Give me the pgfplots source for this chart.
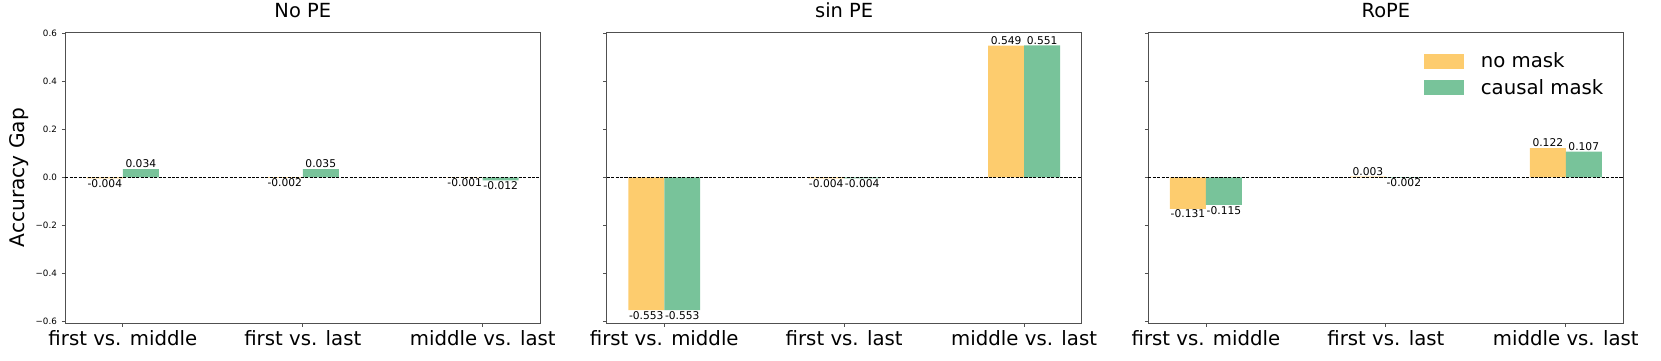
\documentclass[border=0pt]{standalone}
\usepackage{pgfplots}
\pgfplotsset{compat=1.18}
\usepackage{fontspec}
\setmainfont{DejaVu Sans}

\definecolor{cYel}{RGB}{253,204,110}
\definecolor{cGrn}{RGB}{120,195,154}
\definecolor{frame}{RGB}{80,80,80}

\pgfplotsset{
  gapaxis/.style={
    scale only axis,
    width=342pt, height=209.7pt,
    anchor=north west,
    xmin=-0.32, xmax=2.32,
    ymin=-0.6083, ymax=0.6063,
    xtick={0,1,2},
    xticklabels={first vs. middle, first vs. last, middle vs. last},
    ytick={-0.6,-0.4,-0.2,0,0.2,0.4,0.6},
    tick pos=left,
    tick align=outside,
    major tick length=2.5pt,
    axis line style={frame, line width=0.6pt},
    every tick/.style={frame, line width=0.6pt},
    xticklabel style={font=\fontsize{14.2}{16}\selectfont, anchor=base, yshift=-13.8pt},
    yticklabel style={font=\fontsize{6.3}{7}\selectfont},
    title style={at={(0.5,1)}, anchor=base, yshift=4.3pt},
    clip=false,
  },
  valbar/.style={ybar, bar width=0.2, bar shift=0pt, draw=none,
    nodes near coords, point meta=explicit symbolic,
    visualization depends on={value \thisrow{a} \as \anch},
    every node near coord/.append style={font=\fontsize{7.7}{8}\selectfont,
      inner sep=0.6pt, text=black, anchor=\anch}},
  barY/.style={valbar, fill=cYel,
    legend image code/.code={\fill[cYel] (0pt,-5.4pt) rectangle (28.8pt,5.4pt);}},
  barG/.style={valbar, fill=cGrn,
    legend image code/.code={\fill[cGrn] (0pt,-5.4pt) rectangle (28.8pt,5.4pt);}},
  zeroline/.style={black, line width=0.6pt, dash pattern=on 2.2pt off 1pt, forget plot},
}

\begin{document}
\begin{tikzpicture}
\path[use as bounding box] (0,0) rectangle (1195.9pt,-259.9pt);

% ---- No PE ----
\begin{axis}[gapaxis, at={(47.0pt,-23.04pt)},
    title={\fontsize{14}{16}\selectfont No PE},
    yticklabels={−0.6,−0.4,−0.2,0.0,0.2,0.4,0.6},
    ylabel={\fontsize{14.5}{16}\selectfont Accuracy Gap},
    ylabel style={at={(axis description cs:-0.0968,0.5)}, anchor=center}]
\addplot[barY] table[meta=l] {
x y l a
-0.1 -0.004 -0.004 north
0.9 -0.002 -0.002 north
1.9 -0.001 -0.001 north
};
\addplot[barG] table[meta=l] {
x y l a
0.1 0.034 0.034 south
1.1 0.035 0.035 south
2.1 -0.012 -0.012 north
};
\addplot[zeroline] coordinates {(-0.32,0) (2.32,0)};
\end{axis}

% ---- sin PE ----
\begin{axis}[gapaxis, at={(436.8pt,-23.04pt)},
    title={\fontsize{14}{16}\selectfont sin PE}, yticklabels={}]
\addplot[barY] table[meta=l] {
x y l a
-0.1 -0.553 -0.553 north
0.9 -0.004 -0.004 north
1.9 0.549 0.549 south
};
\addplot[barG] table[meta=l] {
x y l a
0.1 -0.553 -0.553 north
1.1 -0.004 -0.004 north
2.1 0.551 0.551 south
};
\addplot[zeroline] coordinates {(-0.32,0) (2.32,0)};
\end{axis}

% ---- RoPE ----
\begin{axis}[gapaxis, at={(826.8pt,-23.04pt)},
    title={\fontsize{14}{16}\selectfont RoPE}, yticklabels={},
    legend style={at={(axis description cs:0.58,0.93)}, anchor=north west,
      draw=none, fill=none, font=\fontsize{14.2}{16}\selectfont,
      row sep=7pt, inner sep=0pt,
      nodes={inner sep=0pt, anchor=west},
      /tikz/every odd column/.style={column sep=12pt}},
    legend cell align=left]
\addplot[barY] table[meta=l] {
x y l a
-0.1 -0.131 -0.131 north
0.9 0.003 0.003 south
1.9 0.122 0.122 south
};
\addlegendentry{no mask}
\addplot[barG] table[meta=l] {
x y l a
0.1 -0.115 -0.115 north
1.1 -0.002 -0.002 north
2.1 0.107 0.107 south
};
\addlegendentry{causal mask}
\addplot[zeroline] coordinates {(-0.32,0) (2.32,0)};
\end{axis}
\end{tikzpicture}
\end{document}
